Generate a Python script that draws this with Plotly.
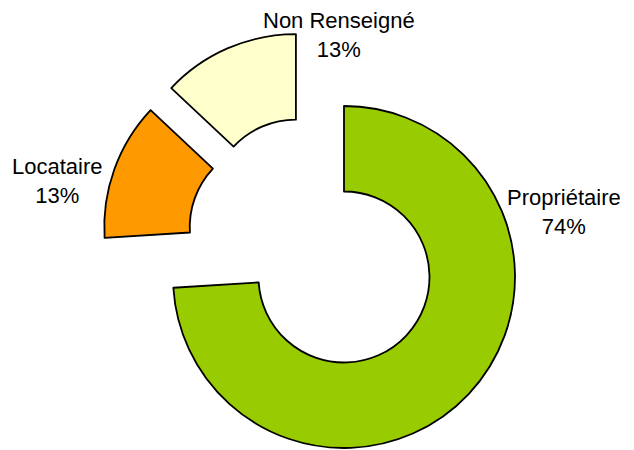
import plotly.graph_objects as go

# ---- data ----
labels = ["Propriétaire", "Locataire", "Non Renseigné"]
values = [74, 13, 13]
colors = ["#99CC00", "#FF9900", "#FFFFCC"]

W, H = 634, 450
total = sum(values)
percents = [round(v * 100 / total) for v in values]

# layout / geometry (pixels)
green_center = (344, 277)
radius = 171
pulled_center = (311, 240)
pull_px = 38
label_pos = {"Propriétaire": (564, 212), "Locataire": (57, 181), "Non Renseigné": (339, 35)}

def domain(center, half):
    cx, cy = center
    return dict(x=[(cx - half) / W, (cx + half) / W],
                y=[(H - cy - half) / H, (H - cy + half) / H])

transparent = "rgba(0,0,0,0)"
fig = go.Figure()

# trace 1: the non-exploded slice
fig.add_trace(go.Pie(
    labels=labels, values=values, sort=False, direction="clockwise", rotation=0,
    hole=0.5, textinfo="none", hoverinfo="label+percent", showlegend=False,
    marker=dict(colors=[colors[0], transparent, transparent],
                line=dict(color="black", width=[1.8, 0, 0])),
    domain=domain(green_center, radius),
))

# trace 2: the exploded slices
p = pull_px / radius
fig.add_trace(go.Pie(
    labels=labels, values=values, sort=False, direction="clockwise", rotation=0,
    hole=0.5, textinfo="none", hoverinfo="label+percent", showlegend=False,
    pull=[0, p, p],
    marker=dict(colors=[transparent, colors[1], colors[2]],
                line=dict(color="black", width=[0, 1.8, 1.8])),
    domain=domain(pulled_center, radius * (1 + p)),
))

for lab, pct in zip(labels, percents):
    x, y = label_pos[lab]
    fig.add_annotation(
        x=x / W, y=1 - y / H, xref="paper", yref="paper",
        text=f"{lab}<br>{pct}%", showarrow=False,
        xanchor="center", yanchor="middle", align="center",
        font=dict(family="Liberation Sans, Arial, sans-serif", size=22, color="black"),
    )

fig.update_layout(width=W, height=H, margin=dict(l=0, r=0, t=0, b=0),
                  paper_bgcolor="white", plot_bgcolor="white")

fig.write_html("out.html", config={"displayModeBar": False},
               post_script="document.body.style.margin='0';document.body.style.overflow='hidden';")
